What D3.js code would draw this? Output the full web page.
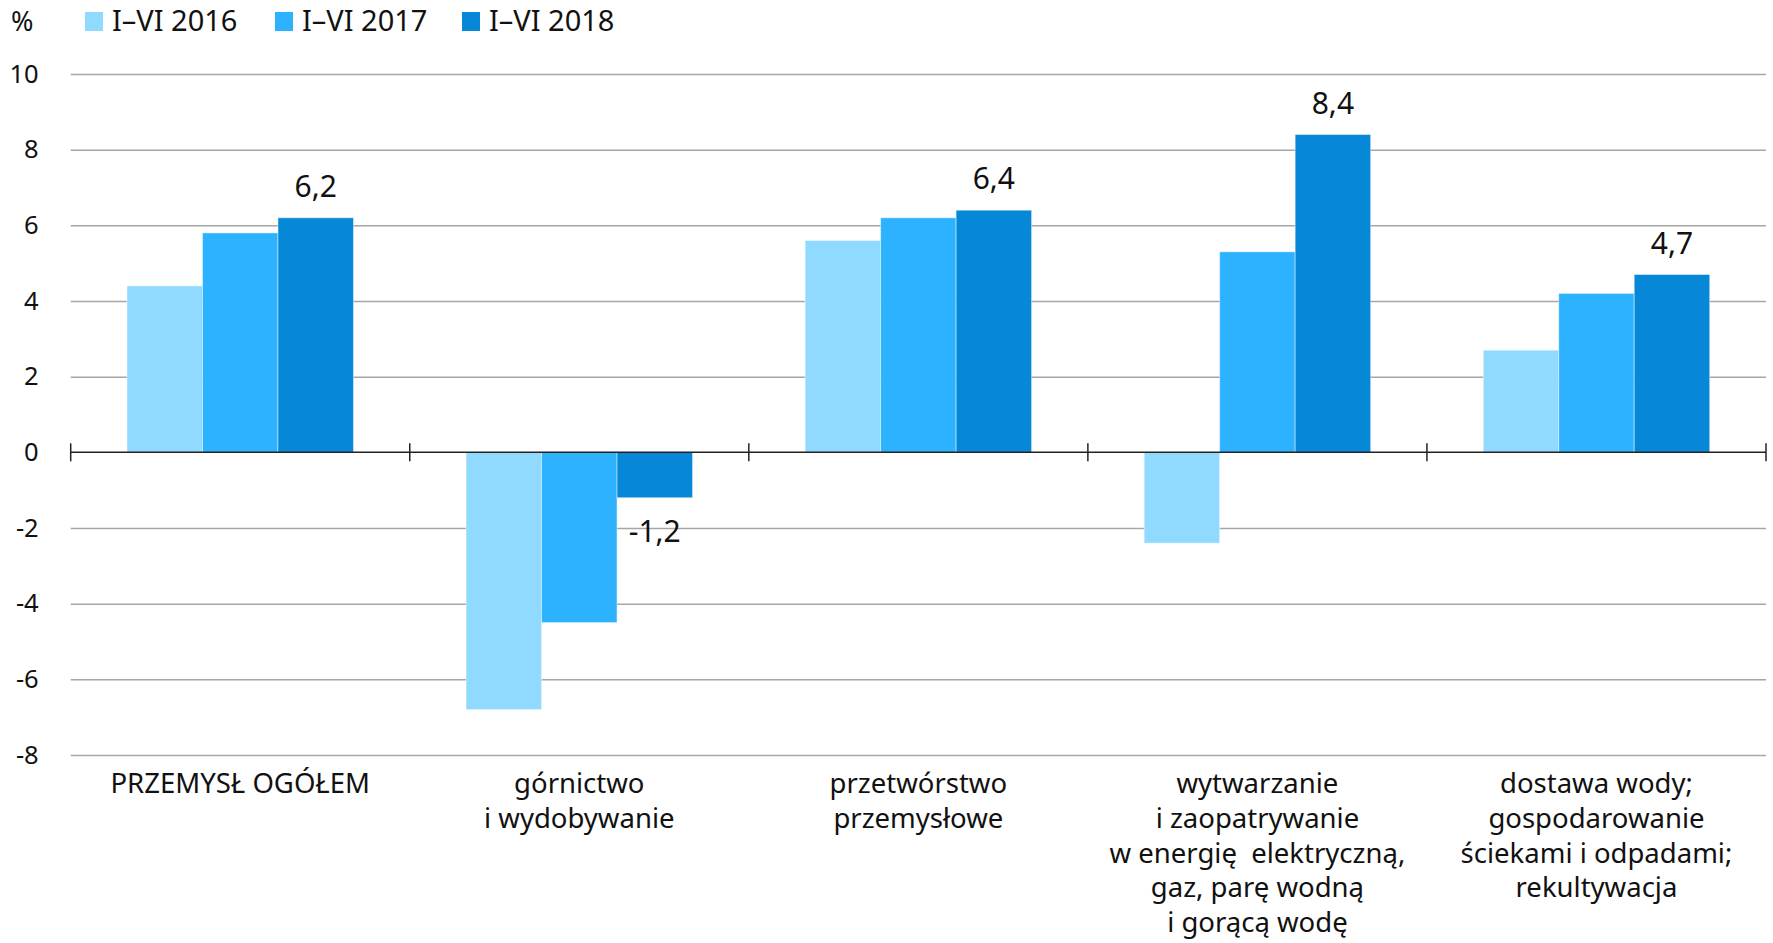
<!DOCTYPE html>
<html>
<head>
<meta charset="utf-8">
<script src="https://cdn.jsdelivr.net/npm/d3@7"></script>
<style>
  body { margin: 0; background: #fff; }
  svg { font-family: 'Noto Sans', 'Open Sans', sans-serif; }
</style>
</head>
<body>
<svg id="chart" width="1773" height="943"></svg>
<script>
(function () {

const categories = [
  ['PRZEMYSŁ OGÓŁEM'],
  ['górnictwo', 'i wydobywanie'],
  ['przetwórstwo', 'przemysłowe'],
  ['wytwarzanie', 'i zaopatrywanie', 'w energię  elektryczną,', 'gaz, parę wodną', 'i gorącą wodę'],
  ['dostawa wody;', 'gospodarowanie', 'ściekami i odpadami;', 'rekultywacja']
];
const seriesNames = ['I–VI 2016', 'I–VI 2017', 'I–VI 2018'];
const values2016 = [4.4, -6.8, 5.6, -2.4, 2.7];
const values2017 = [5.8, -4.5, 6.2, 5.3, 4.2];
const values2018 = [6.2, -1.2, 6.4, 8.4, 4.7];
const yTicks = [-8, -6, -4, -2, 0, 2, 4, 6, 8, 10];
const colors = ['#90d9ff', '#2cb2fe', '#0787d7'];

const series = [values2016, values2017, values2018];

const svg = d3.select('#chart'),
    margin = {top: 74, right: 7, bottom: 188, left: 70.7},
    width = +svg.attr('width') - margin.left - margin.right,
    height = +svg.attr('height') - margin.top - margin.bottom;

const y = d3.scaleLinear()
  .domain([-8, 10])
  .range([margin.top + height, margin.top]);

const x0 = d3.scaleBand()
  .domain(d3.range(categories.length))
  .range([margin.left, margin.left + width]);

const bw = x0.bandwidth();
const x1 = d3.scaleBand()
  .domain(d3.range(series.length))
  .range([bw * 0.166, bw * 0.834]);

function fmt(v) {
  return (v < 0 ? '-' : '') + Math.abs(v).toFixed(1).replace('.', ',');
}

// gridlines + y labels
const yAxis = svg.append('g')
  .attr('class', 'axis axis--y')
  .attr('transform', 'translate(' + margin.left + ',0)')
  .call(d3.axisLeft(y).tickValues(yTicks).tickSize(-width).tickPadding(32).tickFormat(function(d) { return String(d); }));

yAxis.select('.domain').remove();
yAxis.selectAll('.tick line')
  .attr('stroke', function(d) { return d === 0 ? 'none' : '#a6a6a6'; })
  .attr('stroke-width', 1.5);
yAxis.selectAll('.tick text')
  .attr('fill', '#111')
  .style('font-size', '25.5px')
  .style('font-family', "'Noto Sans', sans-serif");

// bars
const group = svg.selectAll('.cat')
  .data(categories)
  .enter().append('g')
    .attr('class', 'cat')
    .attr('transform', function(d, i) { return 'translate(' + x0(i) + ',0)'; });

group.selectAll('rect')
  .data(function(d, i) { return series.map(function(s, j) { return {s: j, v: s[i]}; }); })
  .enter().append('rect')
    .attr('x', function(d) { return x1(d.s); })
    .attr('width', x1.bandwidth())
    .attr('y', function(d) { return y(Math.max(0, d.v)); })
    .attr('height', function(d) { return Math.abs(y(d.v) - y(0)); })
    .attr('fill', function(d) { return colors[d.s]; })
    .attr('stroke', 'rgba(255,255,255,0.45)')
    .attr('stroke-width', 1);

// value labels for last series
group.append('text')
    .attr('class', 'value')
    .attr('x', function(d, i) { return x1(2) + x1.bandwidth() / 2; })
    .attr('y', function(d, i) {
      const v = values2018[i];
      return v >= 0 ? y(v) - 21 : y(v) + 44;
    })
    .attr('text-anchor', 'middle')
    .style('font-size', '30px')
    .attr('fill', '#111')
    .text(function(d, i) { return fmt(values2018[i]); });

// zero axis with ticks at category boundaries
svg.append('line')
  .attr('x1', margin.left)
  .attr('x2', margin.left + width)
  .attr('y1', y(0))
  .attr('y2', y(0))
  .attr('stroke', '#222')
  .attr('stroke-width', 1.5);

svg.selectAll('.xtick')
  .data(d3.range(categories.length + 1))
  .enter().append('line')
    .attr('class', 'xtick')
    .attr('x1', function(i) { return margin.left + i * bw; })
    .attr('x2', function(i) { return margin.left + i * bw; })
    .attr('y1', y(0) - 9)
    .attr('y2', y(0) + 9)
    .attr('stroke', '#222')
    .attr('stroke-width', 1.5);

// category labels
const lab = svg.selectAll('.catlabel')
  .data(categories)
  .enter().append('text')
    .attr('class', 'catlabel')
    .attr('text-anchor', 'middle')
    .attr('fill', '#111')
    .style('font-size', '27.5px')
    .style('white-space', 'pre');

lab.selectAll('tspan')
  .data(function(d, i) { return d.map(function(t) { return {t: t, i: i}; }); })
  .enter().append('tspan')
    .attr('x', function(d) { return x0(d.i) + bw / 2; })
    .attr('y', function(d, k) { return 793 + k * 34.8; })
    .text(function(d) { return d.t; });

// legend
svg.append('text')
  .attr('x', 11)
  .attr('y', 31)
  .style('font-size', '27px')
  .attr('fill', '#111')
  .text('%');

const legendX = [85, 275, 462];
const legend = svg.selectAll('.legend-item')
  .data(seriesNames)
  .enter().append('g')
    .attr('class', 'legend-item')
    .attr('transform', function(d, i) { return 'translate(' + legendX[i] + ',0)'; });

legend.append('rect')
  .attr('x', 0)
  .attr('y', 12)
  .attr('width', 18)
  .attr('height', 19)
  .attr('fill', function(d, i) { return colors[i]; });

legend.append('text')
  .attr('x', 27)
  .attr('y', 31)
  .style('font-size', '29px')
  .attr('fill', '#111')
  .text(function(d) { return d; });

})();
</script>
</body>
</html>
